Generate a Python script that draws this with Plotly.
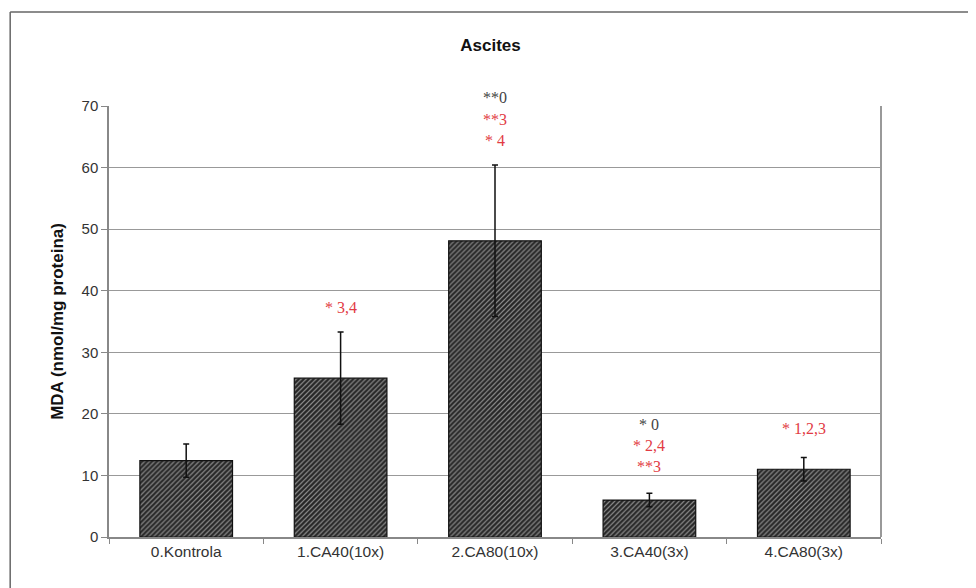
import plotly.graph_objects as go

categories = ["0.Kontrola", "1.CA40(10x)", "2.CA80(10x)", "3.CA40(3x)", "4.CA80(3x)"]
means = [12.4, 25.8, 48.1, 6.0, 11.0]
errors = [2.7, 7.5, 12.3, 1.1, 1.9]

# significance labels: (category index, y value, text, colour key)
sig_cat = [1, 2, 2, 2, 3, 3, 3, 4]
sig_y = [37.2, 71.3, 67.8, 64.4, 18.3, 14.9, 11.5, 17.7]
sig_text = ["* 3,4", "**0", "**3", "* 4", "* 0", "* 2,4", "**3", "* 1,2,3"]
sig_kind = ["r", "k", "r", "r", "k", "r", "r", "r"]

y_ticks = [0, 10, 20, 30, 40, 50, 60, 70]
y_max = 70

fig = go.Figure()
fig.add_trace(go.Bar(
    x=categories, y=means, width=0.6,
    marker=dict(color="#222222", line=dict(color="#111", width=1.2),
                pattern=dict(shape="/", fgcolor="#f0f0f0", bgcolor="#262626",
                             size=3.5, solidity=0.35)),
    error_y=dict(type="data", array=errors, visible=True, color="#111",
                 thickness=1.5, width=3),
    showlegend=False,
))

colors = {"r": "#e23b44", "k": "#444444"}
for c, yv, t, k in zip(sig_cat, sig_y, sig_text, sig_kind):
    fig.add_annotation(x=categories[c], xref="x", y=yv / y_max, yref="paper",
                       text=t, showarrow=False,
                       font=dict(family="Liberation Serif", size=16, color=colors[k]),
                       xanchor="center", yanchor="middle")

fig.update_layout(
    width=968, height=580,
    margin=dict(l=101, r=95, t=98, b=51, autoexpand=False),
    paper_bgcolor="white", plot_bgcolor="white",
    title=dict(text="<b>Ascites</b>", x=0.4985, xanchor="center", y=0.936, yanchor="middle",
               font=dict(family="Liberation Sans", size=17, color="#111")),
    font=dict(family="Liberation Sans", size=13, color="#333"),
)
fig.update_xaxes(
    type="category", tickson="boundaries", ticks="outside", ticklen=5,
    tickcolor="#888", showline=True, linecolor="#888", linewidth=1.5,
    tickfont=dict(family="Liberation Sans", size=15.5, color="#333"),
    showgrid=False, automargin=False,
)
fig.update_yaxes(
    range=[0, y_max], tickvals=y_ticks, ticks="outside", ticklen=6, tickcolor="#888",
    showline=True, linecolor="#888", linewidth=1.5, gridcolor="#999", gridwidth=1,
    tickfont=dict(family="Liberation Sans", size=15, color="#333"),
    title=dict(text="<b>MDA (nmol/mg proteina)</b>", standoff=14,
               font=dict(family="Liberation Sans", size=17, color="#111")),
    zeroline=False, automargin=False,
)
# right border of plot area
fig.add_shape(type="line", xref="paper", yref="paper", x0=1, x1=1, y0=0, y1=1,
              line=dict(color="#999", width=2))
# outer frame (left and top edges)
fig.add_shape(type="line", xref="paper", yref="paper",
              x0=-0.128, x1=1.2, y0=1.218, y1=1.218, line=dict(color="#666", width=1.5))
fig.add_shape(type="line", xref="paper", yref="paper",
              x0=-0.128, x1=-0.128, y0=-0.2, y1=1.218, line=dict(color="#666", width=1.5))

fig.write_html("out.html")
